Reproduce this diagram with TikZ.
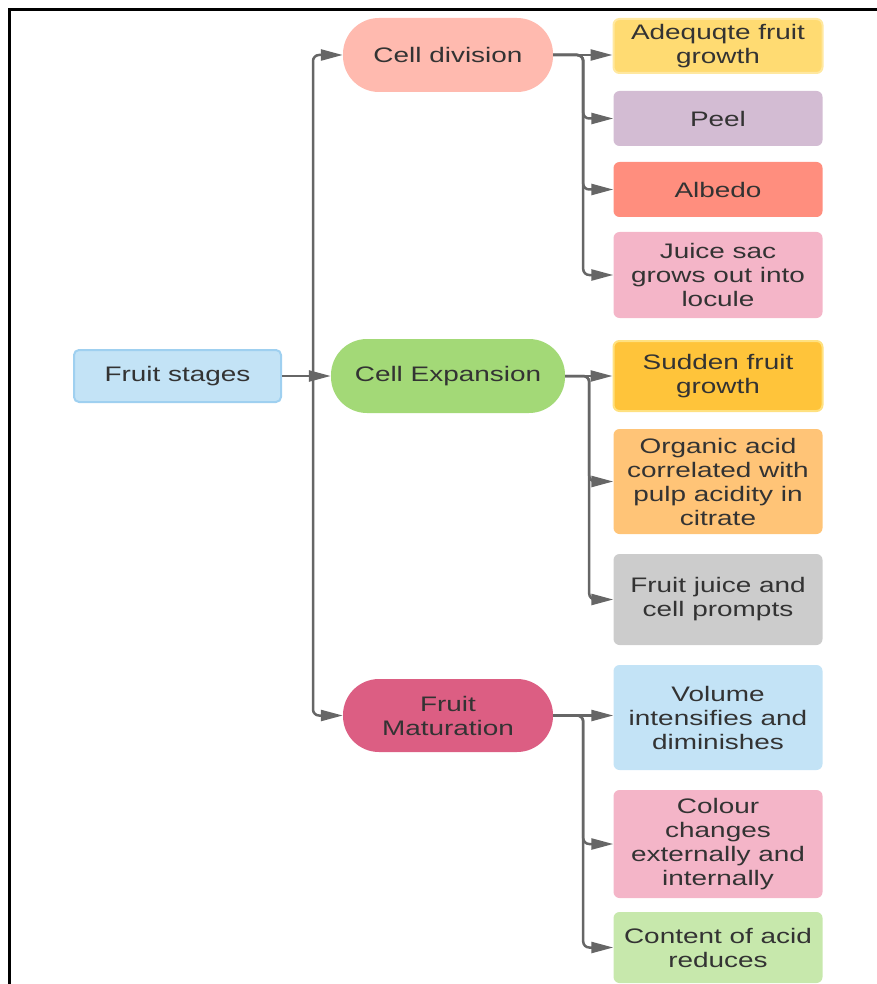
\documentclass[tikz,border=0pt]{standalone}
\usepackage{fontspec}
\setmainfont{Liberation Sans}[FakeStretch=1.33]
\usetikzlibrary{arrows.meta}

\definecolor{txtgray}{HTML}{333333}
\definecolor{linegray}{HTML}{666666}
\definecolor{rootblue}{HTML}{C3E3F6}
\definecolor{rootedge}{HTML}{9FD0F0}
\definecolor{divpink}{HTML}{FFBAAF}
\definecolor{expgreen}{HTML}{A3D977}
\definecolor{matred}{HTML}{DC5E83}
\definecolor{adeyellow}{HTML}{FFDB72}
\definecolor{adeedge}{HTML}{FFE8A0}
\definecolor{peelpurple}{HTML}{D3BCD3}
\definecolor{albedored}{HTML}{FF8E7E}
\definecolor{sacpink}{HTML}{F4B5C8}
\definecolor{suddenorange}{HTML}{FFC43A}
\definecolor{suddenedge}{HTML}{FFE180}
\definecolor{acidorange}{HTML}{FFC477}
\definecolor{juicegray}{HTML}{CCCCCC}
\definecolor{contentgreen}{HTML}{C7E8AC}

\tikzstyle{stageText}=[text=txtgray,font=\fontsize{21}{24}\selectfont,align=center,inner sep=0pt]
\tikzstyle{rootBox}=[stageText,rectangle,rounded corners=5pt,fill=rootblue,draw=rootedge,line width=2pt,minimum width=207pt,minimum height=52pt]
\tikzstyle{phasePill}=[stageText,rectangle,rounded corners=36pt,minimum height=74pt]
\tikzstyle{leafBox}=[stageText,rectangle,rounded corners=6pt,minimum width=209pt]
\tikzstyle{link}=[draw=linegray,line width=2.5pt,rounded corners=6pt,-{Triangle[length=22pt,width=11pt]}]

\begin{document}
\begin{tikzpicture}[x=1pt,y=-1pt]
        \useasboundingbox (0,0) rectangle (877,984);
        % frame
        \draw[line width=3pt,black] (9.5,984) -- (9.5,10) -- (877,10);

        \node[rootBox] (root) at (177.5,376) {Fruit stages};

        \node[phasePill,fill=divpink,minimum width=210pt]   (cd) at (448,55)    {Cell division};
        \node[phasePill,fill=expgreen,minimum width=234pt]  (ce) at (448,376)   {Cell Expansion};
        \node[phasePill,fill=matred,minimum width=210pt,minimum height=73pt] (fm) at (448,715.5) {Fruit\\Maturation};

        % cell division
        \node[leafBox,fill=adeyellow,draw=adeedge,line width=2pt,minimum height=54pt] (ade)    at (718,46)    {Adequqte fruit\\growth};
        \node[leafBox,fill=peelpurple,minimum height=55pt]   (peel)   at (718,118.5) {Peel};
        \node[leafBox,fill=albedored,minimum height=55pt]    (albedo) at (718,189.5) {Albedo};
        \node[leafBox,fill=sacpink,minimum height=86pt]      (sac)    at (718,275)   {Juice sac\\grows out into\\locule};

        % cell expansion
        \node[leafBox,fill=suddenorange,draw=suddenedge,line width=2pt,minimum height=70pt] (sudden) at (718,376) {Sudden fruit\\growth};
        \node[leafBox,fill=acidorange,minimum height=105pt]  (acid)   at (718,481.5) {Organic acid\\correlated with\\pulp acidity in\\citrate};
        \node[leafBox,fill=juicegray,minimum height=91pt]    (juice)  at (718,599.5) {Fruit juice and\\cell prompts};

        % fruit maturation
        \node[leafBox,fill=rootblue,minimum height=105pt]    (volume) at (718,717.5) {Volume\\intensifies and\\diminishes};
        \node[leafBox,fill=sacpink,minimum height=108pt]     (colour) at (718,844)   {Colour\\changes\\externally and\\internally};
        \node[leafBox,fill=contentgreen,minimum height=71pt] (content) at (718,947.5) {Content of acid\\reduces};

        % trunk
        \draw [link] (root.east) -- (ce.west);
        \draw [link] (root.east) ++(31,0) |- (cd.west);
        \draw [link] (root.east) ++(31,0) |- (fm.west);

        \draw [link] (cd.east) -- (cd.east -| ade.west);
        \draw [link] (cd.east) -- ++(30,0) |- (peel.west);
        \draw [link] (cd.east) -- ++(30,0) |- (albedo.west);
        \draw [link] (cd.east) -- ++(30,0) |- (sac.west);

        \draw [link] (ce.east) -- (sudden.west);
        \draw [link] (ce.east) -- ++(24,0) |- (acid.west);
        \draw [link] (ce.east) -- ++(24,0) |- (juice.west);

        \draw [link] (fm.east) -- (fm.east -| volume.west);
        \draw [link] (fm.east) -- ++(30,0) |- (colour.west);
        \draw [link] (fm.east) -- ++(30,0) |- (content.west);
    \end{tikzpicture}
\end{document}
